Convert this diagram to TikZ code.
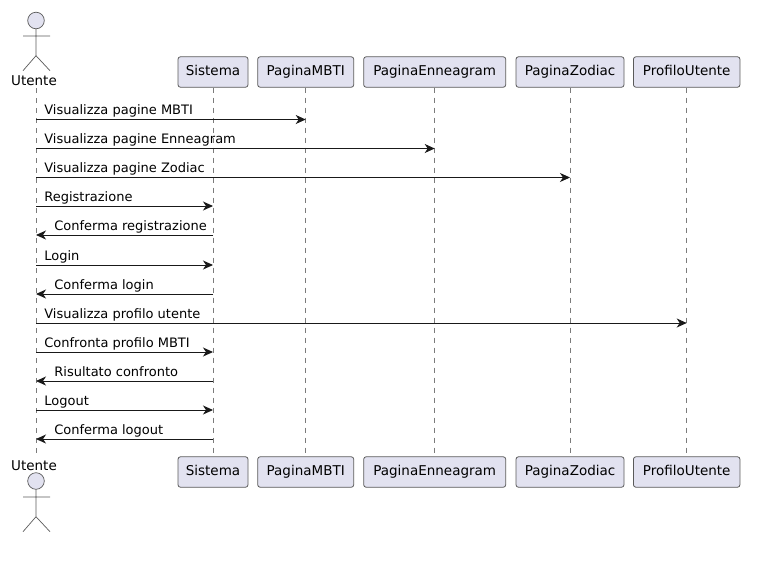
\documentclass[tikz,border=0pt]{standalone}
\usepackage{fontspec}
\setmainfont{DejaVu Sans}
\usetikzlibrary{arrows.meta}
\definecolor{partfill}{HTML}{E2E2F0}
\definecolor{partline}{HTML}{5A5A5A}
\tikzset{every picture/.style={line width=0.75pt},
	part/.style={draw=partline,fill=partfill,rounded corners=2.5pt,line width=0.8pt,minimum height=30.5pt,inner sep=0pt,text height=10pt,text depth=3pt,font=\fontsize{13.5}{15}\selectfont},
	life/.style={draw=partline!80,line width=0.6pt,dash pattern=on 5pt off 5pt},
	msg/.style={-{Stealth[length=10pt,width=9pt,inset=3pt]},line width=0.9pt,draw=black!90},
	msgtxt/.style={font=\fontsize{13}{15}\selectfont,anchor=base west,inner sep=0pt},
	stick/.style={draw=partline,line width=0.7pt},
	actorname/.style={font=\fontsize{13.5}{15}\selectfont,inner sep=0pt}}
\begin{document}
\begin{tikzpicture}[line join = round, line cap = butt, >=stealth, x=1pt, y=-1pt]
	\useasboundingbox (0,0) rectangle (775,571);
	\path (36,88)coordinate(Utop)
		(36,456)coordinate(Ubot);
	\node[actorname] (Uname) at (34,80.5) {Utente};
	\node[actorname] (Uname2) at (34,465.5) {Utente};
	% participants, top and bottom
	\foreach \n/\x/\w/\t in {Sis/213/70/Sistema,Mbti/305.7/96/PaginaMBTI,Enn/434.7/142/PaginaEnneagram,Zod/570/108/PaginaZodiac,Pro/686.7/106.5/ProfiloUtente}{
		\node[part,minimum width=\w pt] (\n) at (\x,72) {\t};
		\node[part,minimum width=\w pt] (\n2) at (\x,472) {\t};
		\draw[life] (\n) -- (\n2);
	}
	\draw[life] (Utop) -- (Ubot);
	% actor top
	\draw[stick,fill=partfill] (36,20.5) circle (8.3pt);
	\draw[stick] (36,29)--(36,55.7)--(23,70.7) (36,55.7)--(50,70.7) (23,36)--(50,36);
	% actor bottom
	\draw[stick,fill=partfill] (36,481) circle (8.3pt);
	\draw[stick] (36,489.5)--(36,516.7)--(23,531.7) (36,516.7)--(50,531.7) (23,497)--(50,497);
	% messages
	\foreach \y/\g/\txt in {119.5/Mbti/Visualizza pagine MBTI,148.5/Enn/Visualizza pagine Enneagram,177.5/Zod/Visualizza pagine Zodiac,206/Sis/Registrazione,265/Sis/Login,323/Pro/Visualizza profilo utente,352/Sis/Confronta profilo MBTI,410/Sis/Logout}{
		\draw[msg] (Utop |- 0,\y) -- (\g |- 0,\y);
		\node[msgtxt] at (44,\y-5) {\txt};
	}
	\foreach \y/\txt in {235/Conferma registrazione,294/Conferma login,381/Risultato confronto,439/Conferma logout}{
		\draw[msg] (Sis |- 0,\y) -- (Utop |- 0,\y);
		\node[msgtxt] at (54,\y-5) {\txt};
	}
\end{tikzpicture}
\end{document}
